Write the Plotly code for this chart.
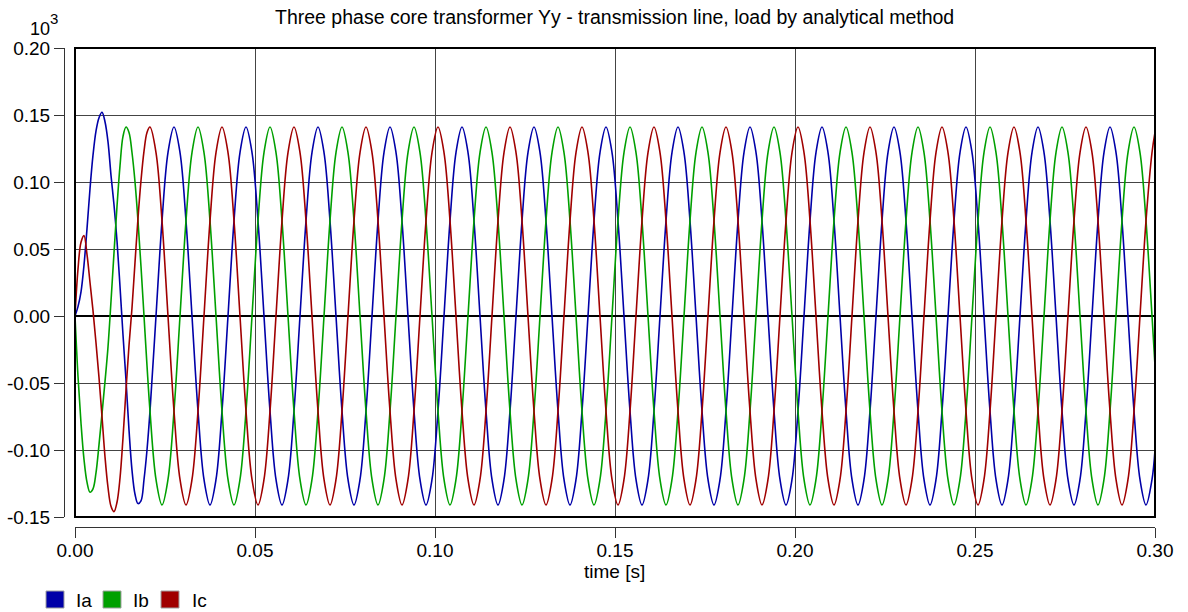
import plotly.graph_objects as go

# ---------------- data ----------------
# time samples in milliseconds
t_ms = [
    0, 0.83, 1.67, 2.5, 3.33, 4.17, 5.0, 5.83, 6.67, 7.5, 8.33, 9.17,
    10.0, 10.83, 11.67, 12.5, 13.33, 14.17, 15.0, 15.83, 16.67, 17.5, 18.33, 19.17, 20.0,
    20.83, 22.5, 24.17, 25.83, 27.5, 29.17, 30.83, 32.5, 34.17, 35.83, 37.5, 39.17,
    40.83, 42.5, 44.17, 45.83, 47.5, 49.17, 50.83, 52.5, 54.17, 55.83, 57.5, 59.17,
    60.83, 62.5, 64.17, 65.83, 67.5, 69.17, 70.83, 72.5, 74.17, 75.83, 77.5, 79.17,
    80.83, 82.5, 84.17, 85.83, 87.5, 89.17, 90.83, 92.5, 94.17, 95.83, 97.5, 99.17,
    100.83, 102.5, 104.17, 105.83, 107.5, 109.17, 110.83, 112.5, 114.17, 115.83, 117.5, 119.17,
    120.83, 122.5, 124.17, 125.83, 127.5, 129.17, 130.83, 132.5, 134.17, 135.83, 137.5, 139.17,
    140.83, 142.5, 144.17, 145.83, 147.5, 149.17, 150.83, 152.5, 154.17, 155.83, 157.5, 159.17,
    160.83, 162.5, 164.17, 165.83, 167.5, 169.17, 170.83, 172.5, 174.17, 175.83, 177.5, 179.17,
    180.83, 182.5, 184.17, 185.83, 187.5, 189.17, 190.83, 192.5, 194.17, 195.83, 197.5, 199.17,
    200.83, 202.5, 204.17, 205.83, 207.5, 209.17, 210.83, 212.5, 214.17, 215.83, 217.5, 219.17,
    220.83, 222.5, 224.17, 225.83, 227.5, 229.17, 230.83, 232.5, 234.17, 235.83, 237.5, 239.17,
    240.83, 242.5, 244.17, 245.83, 247.5, 249.17, 250.83, 252.5, 254.17, 255.83, 257.5, 259.17,
    260.83, 262.5, 264.17, 265.83, 267.5, 269.17, 270.83, 272.5, 274.17, 275.83, 277.5, 279.17,
    280.83, 282.5, 284.17, 285.83, 287.5, 289.17, 290.83, 292.5, 294.17, 295.83, 297.5, 299.17,
    300.0,
]

# phase currents (x 10^3)
ia = [
    0, 0.007, 0.018, 0.038, 0.065, 0.095, 0.120, 0.138, 0.148, 0.152, 0.145, 0.130,
    0.105, 0.083, 0.056, 0.022, -0.014, -0.048, -0.085, -0.115, -0.133, -0.140, -0.138, -0.122, -0.100,
    -0.071, 0, 0.071, 0.122, 0.141, 0.122, 0.071, 0, -0.071, -0.122, -0.141, -0.122,
    -0.071, 0, 0.071, 0.122, 0.141, 0.122, 0.071, 0, -0.071, -0.122, -0.141, -0.122,
    -0.071, 0, 0.071, 0.122, 0.141, 0.122, 0.071, 0, -0.071, -0.122, -0.141, -0.122,
    -0.071, 0, 0.071, 0.122, 0.141, 0.122, 0.071, 0, -0.071, -0.122, -0.141, -0.122,
    -0.071, 0, 0.071, 0.122, 0.141, 0.122, 0.071, 0, -0.071, -0.122, -0.141, -0.122,
    -0.071, 0, 0.071, 0.122, 0.141, 0.122, 0.071, 0, -0.071, -0.122, -0.141, -0.122,
    -0.071, 0, 0.071, 0.122, 0.141, 0.122, 0.071, 0, -0.071, -0.122, -0.141, -0.122,
    -0.071, 0, 0.071, 0.122, 0.141, 0.122, 0.071, 0, -0.071, -0.122, -0.141, -0.122,
    -0.071, 0, 0.071, 0.122, 0.141, 0.122, 0.071, 0, -0.071, -0.122, -0.141, -0.122,
    -0.071, 0, 0.071, 0.122, 0.141, 0.122, 0.071, 0, -0.071, -0.122, -0.141, -0.122,
    -0.071, 0, 0.071, 0.122, 0.141, 0.122, 0.071, 0, -0.071, -0.122, -0.141, -0.122,
    -0.071, 0, 0.071, 0.122, 0.141, 0.122, 0.071, 0, -0.071, -0.122, -0.141, -0.122,
    -0.071, 0, 0.071, 0.122, 0.141, 0.122, 0.071, 0, -0.071, -0.122, -0.141, -0.122,
    -0.071, 0, 0.071, 0.122, 0.141, 0.122, 0.071, 0, -0.071, -0.122, -0.141, -0.122,
    -0.100,
]

ib = [
    0, -0.045, -0.080, -0.107, -0.124, -0.1315, -0.129, -0.117, -0.096, -0.073, -0.049, -0.023,
    0.011, 0.047, 0.082, 0.112, 0.134, 0.141, 0.137, 0.122, 0.100, 0.071, 0.037, 0.000, -0.037,
    -0.071, -0.122, -0.141, -0.122, -0.071, 0, 0.071, 0.122, 0.141, 0.122, 0.071, 0,
    -0.071, -0.122, -0.141, -0.122, -0.071, 0, 0.071, 0.122, 0.141, 0.122, 0.071, 0,
    -0.071, -0.122, -0.141, -0.122, -0.071, 0, 0.071, 0.122, 0.141, 0.122, 0.071, 0,
    -0.071, -0.122, -0.141, -0.122, -0.071, 0, 0.071, 0.122, 0.141, 0.122, 0.071, 0,
    -0.071, -0.122, -0.141, -0.122, -0.071, 0, 0.071, 0.122, 0.141, 0.122, 0.071, 0,
    -0.071, -0.122, -0.141, -0.122, -0.071, 0, 0.071, 0.122, 0.141, 0.122, 0.071, 0,
    -0.071, -0.122, -0.141, -0.122, -0.071, 0, 0.071, 0.122, 0.141, 0.122, 0.071, 0,
    -0.071, -0.122, -0.141, -0.122, -0.071, 0, 0.071, 0.122, 0.141, 0.122, 0.071, 0,
    -0.071, -0.122, -0.141, -0.122, -0.071, 0, 0.071, 0.122, 0.141, 0.122, 0.071, 0,
    -0.071, -0.122, -0.141, -0.122, -0.071, 0, 0.071, 0.122, 0.141, 0.122, 0.071, 0,
    -0.071, -0.122, -0.141, -0.122, -0.071, 0, 0.071, 0.122, 0.141, 0.122, 0.071, 0,
    -0.071, -0.122, -0.141, -0.122, -0.071, 0, 0.071, 0.122, 0.141, 0.122, 0.071, 0,
    -0.071, -0.122, -0.141, -0.122, -0.071, 0, 0.071, 0.122, 0.141, 0.122, 0.071, 0,
    -0.071, -0.122, -0.141, -0.122, -0.071, 0, 0.071, 0.122, 0.141, 0.122, 0.071, 0,
    -0.037,
]

ic = [
    0, 0.035, 0.055, 0.060, 0.046, 0.025, 0.004, -0.020, -0.046, -0.075, -0.105, -0.128,
    -0.142, -0.146, -0.139, -0.121, -0.091, -0.055, -0.022, 0.006, 0.040, 0.073, 0.101, 0.123, 0.137,
    0.141, 0.122, 0.071, 0, -0.071, -0.122, -0.141, -0.122, -0.071, 0, 0.071, 0.122,
    0.141, 0.122, 0.071, 0, -0.071, -0.122, -0.141, -0.122, -0.071, 0, 0.071, 0.122,
    0.141, 0.122, 0.071, 0, -0.071, -0.122, -0.141, -0.122, -0.071, 0, 0.071, 0.122,
    0.141, 0.122, 0.071, 0, -0.071, -0.122, -0.141, -0.122, -0.071, 0, 0.071, 0.122,
    0.141, 0.122, 0.071, 0, -0.071, -0.122, -0.141, -0.122, -0.071, 0, 0.071, 0.122,
    0.141, 0.122, 0.071, 0, -0.071, -0.122, -0.141, -0.122, -0.071, 0, 0.071, 0.122,
    0.141, 0.122, 0.071, 0, -0.071, -0.122, -0.141, -0.122, -0.071, 0, 0.071, 0.122,
    0.141, 0.122, 0.071, 0, -0.071, -0.122, -0.141, -0.122, -0.071, 0, 0.071, 0.122,
    0.141, 0.122, 0.071, 0, -0.071, -0.122, -0.141, -0.122, -0.071, 0, 0.071, 0.122,
    0.141, 0.122, 0.071, 0, -0.071, -0.122, -0.141, -0.122, -0.071, 0, 0.071, 0.122,
    0.141, 0.122, 0.071, 0, -0.071, -0.122, -0.141, -0.122, -0.071, 0, 0.071, 0.122,
    0.141, 0.122, 0.071, 0, -0.071, -0.122, -0.141, -0.122, -0.071, 0, 0.071, 0.122,
    0.141, 0.122, 0.071, 0, -0.071, -0.122, -0.141, -0.122, -0.071, 0, 0.071, 0.122,
    0.141, 0.122, 0.071, 0, -0.071, -0.122, -0.141, -0.122, -0.071, 0, 0.071, 0.122,
    0.137,
]

series_names = ["Ia", "Ib", "Ic"]
series_colors = ["#0000a8", "#00a000", "#a00000"]

x_tick_vals = [0.00, 0.05, 0.10, 0.15, 0.20, 0.25, 0.30]
x_tick_text = ["0.00", "0.05", "0.10", "0.15", "0.20", "0.25", "0.30"]
y_tick_vals = [-0.15, -0.10, -0.05, 0.00, 0.05, 0.10, 0.15, 0.20]
y_tick_text = ["-0.15", "-0.10", "-0.05", "0.00", "0.05", "0.10", "0.15", "0.20"]

title_text = "Three phase core transformer Yy - transmission line, load by analytical method"
x_title = "time [s]"
y_scale_base = "10"
y_scale_exp = "3"

# ---------------- figure ----------------
W, H = 1188, 612
FONT = "Liberation Sans, Arial, sans-serif"

def px(x):
    return x / W

def py(y):
    return 1 - y / H

t_s = [v / 1000.0 for v in t_ms]

fig = go.Figure()
for name, ys, col in zip(series_names, [ia, ib, ic], series_colors):
    fig.add_trace(go.Scatter(
        x=t_s, y=ys, mode="lines", name=name, showlegend=False,
        line=dict(color=col, width=1.6, shape="spline", smoothing=1.0),
        hoverinfo="skip",
    ))

fig.update_layout(
    width=W, height=H,
    margin=dict(l=0, r=0, t=0, b=0, pad=0, autoexpand=False),
    paper_bgcolor="white", plot_bgcolor="white",
    font=dict(family=FONT, color="black", size=19),
    xaxis=dict(
        domain=[px(75), px(1155)], range=[0, 0.30],
        tickvals=x_tick_vals, ticktext=x_tick_text,
        anchor="free", position=py(527), automargin=False,
        showline=True, linecolor="#333333", linewidth=1,
        ticks="outside", ticklen=10, tickcolor="#333333", tickwidth=1,
        ticklabelstandoff=-4,
        showgrid=True, gridcolor="#444444", gridwidth=1,
        zeroline=False, tickfont=dict(size=19, family=FONT),
    ),
    yaxis=dict(
        domain=[py(517), py(48)], range=[-0.15, 0.20],
        tickvals=y_tick_vals, ticktext=y_tick_text,
        anchor="free", position=px(64), automargin=False,
        showline=True, linecolor="#333333", linewidth=1,
        ticks="outside", ticklen=10, tickcolor="#333333", tickwidth=1,
        showgrid=True, gridcolor="#444444", gridwidth=1,
        zeroline=True, zerolinecolor="black", zerolinewidth=2,
        tickfont=dict(size=19, family=FONT),
    ),
)

shapes = [
    dict(type="rect", xref="paper", yref="paper",
         x0=px(75), x1=px(1155), y0=py(517), y1=py(48),
         line=dict(color="black", width=2), fillcolor="rgba(0,0,0,0)", layer="above"),
]

annotations = [
    dict(text=title_text, x=px(615), y=py(17), xref="paper", yref="paper",
         showarrow=False, xanchor="center", yanchor="middle",
         font=dict(size=19.5, family=FONT, color="black")),
    dict(text=y_scale_base, x=px(52), y=py(29), xref="paper", yref="paper",
         showarrow=False, xanchor="right", yanchor="middle",
         font=dict(size=18, family=FONT, color="black")),
    dict(text=y_scale_exp, x=px(48), y=py(18), xref="paper", yref="paper",
         showarrow=False, xanchor="left", yanchor="middle",
         font=dict(size=15, family=FONT, color="black")),
    dict(text=x_title, x=px(615), y=py(571), xref="paper", yref="paper",
         showarrow=False, xanchor="center", yanchor="middle",
         font=dict(size=19, family=FONT, color="black")),
]

legend_box_x = [46, 103, 161]
legend_text_x = [74, 131, 190]
for name, col, bx, tx in zip(series_names, series_colors, legend_box_x, legend_text_x):
    shapes.append(dict(type="rect", xref="paper", yref="paper",
                       x0=px(bx), x1=px(bx + 18), y0=py(608), y1=py(591),
                       line=dict(color="#a0a0a0", width=1), fillcolor=col))
    annotations.append(dict(text=name, x=px(tx), y=py(600), xref="paper", yref="paper",
                            showarrow=False, xanchor="left", yanchor="middle",
                            font=dict(size=19, family=FONT, color="black")))

fig.update_layout(shapes=shapes, annotations=annotations)

fig.write_html("out.html")
